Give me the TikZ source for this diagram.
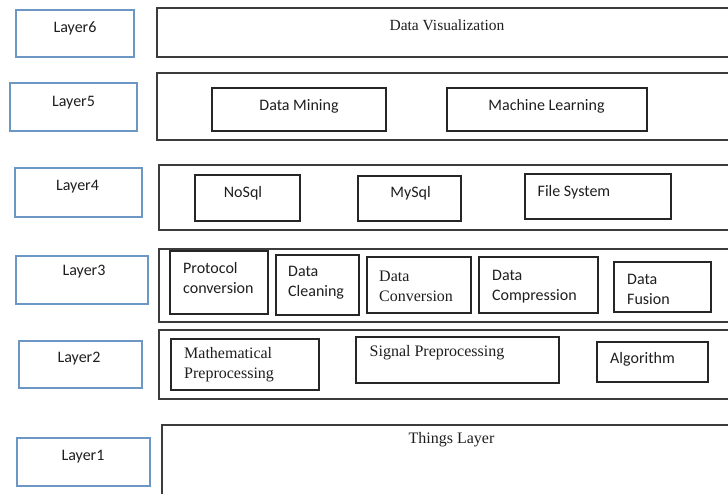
\documentclass[tikz,border=0pt]{standalone}
\usepackage{fontspec}
\setmainfont{Liberation Serif}
\newfontfamily\calfont{Carlito}
\usetikzlibrary{fit}
\definecolor{layerblue}{RGB}{108,150,196}
\definecolor{framegray}{RGB}{60,60,60}
\definecolor{inktext}{RGB}{30,30,30}
\tikzset{
  layertag/.style={draw=layerblue, line width=1.3pt, inner sep=0pt},
  tier/.style={draw=framegray, line width=1.5pt, inner sep=0pt},
  unit/.style={draw=black!85, line width=1.2pt, inner sep=0pt},
  sanstxt/.style={font=\calfont\fontsize{16}{20}\selectfont, text=inktext, inner sep=0pt},
  seriftxt/.style={font=\fontsize{16}{20}\selectfont, text=inktext, inner sep=0pt},
  leftblock/.style={anchor=west, align=left},
}
\begin{document}
\begin{tikzpicture}[x=1pt,y=-1pt]
\useasboundingbox (0,0) rectangle (728,494);
\clip (0,0) rectangle (728,494);

% layer tags on the left
\node[layertag, fit={(16,10) (134,57)}]  (tag6) {};
\node[layertag, fit={(10,83) (137,131)}] (tag5) {};
\node[layertag, fit={(15,168) (142,217)}] (tag4) {};
\node[layertag, fit={(16,256) (148,304)}] (tag3) {};
\node[layertag, fit={(19,341) (142,388)}] (tag2) {};
\node[layertag, fit={(17,438) (150,486)}] (tag1) {};

\node[sanstxt] (tag6t) at (75,28)   {Layer6};
\node[sanstxt] (tag5t) at (73.5,103) {Layer5};
\node[sanstxt] (tag4t) at (77.5,187) {Layer4};
\node[sanstxt] (tag3t) at (84,272)  {Layer3};
\node[sanstxt] (tag2t) at (79,359)  {Layer2};
\node[sanstxt] (tag1t) at (83,457)  {Layer1};

% wide tier frames (running past the right edge)
\node[tier, fit={(157,8) (740,57)}]   (tier6) {};
\node[tier, fit={(157,73) (740,140)}] (tier5) {};
\node[tier, fit={(159,165) (740,230)}] (tier4) {};
\node[tier, fit={(159,249) (740,322)}] (tier3) {};
\node[tier, fit={(159,330) (740,399)}] (tier2) {};
\node[tier, fit={(162,425) (740,520)}] (tier1) {};

% tier 6
\node[seriftxt, font=\fontsize{15.5}{19}\selectfont] (viz) at (447,25) {Data Visualization};

% tier 5
\node[unit, fit={(212,88) (386,131)}] (mining) {};
\node[unit, fit={(447,88) (647,131)}] (learning) {};
\node[sanstxt] (miningt) at (299,106) {Data Mining};
\node[sanstxt] (learningt) at (546.5,106) {Machine Learning};

% tier 4
\node[unit, fit={(195,175) (300,221)}] (nosql) {};
\node[unit, fit={(358,176) (461,221)}] (mysql) {};
\node[unit, fit={(525,174) (671,219)}] (fs) {};
\node[sanstxt] (nosqlt) at (243,193) {NoSql};
\node[sanstxt] (mysqlt) at (410.5,193) {MySql};
\node[sanstxt] (fst) at (574,192) {File System};

% tier 3
\node[unit, fit={(170,251) (268,314)}] (proto) {};
\node[unit, fit={(276,255) (359,315)}] (clean) {};
\node[unit, fit={(367,257) (471,313)}] (conv) {};
\node[unit, fit={(479,257) (598,313)}] (compr) {};
\node[unit, fit={(614,262) (711,312)}] (fusion) {};
\node[sanstxt, leftblock] (protot) at (183,278) {Protocol\\conversion};
\node[sanstxt, leftblock] (cleant) at (288,283) {Data\\Cleaning};
\node[seriftxt, leftblock] (convt) at (379,286) {Data\\Conversion};
\node[sanstxt, leftblock] (comprt) at (492,287) {Data\\Compression};
\node[sanstxt, leftblock] (fusiont) at (627,289) {Data\\Fusion};

% tier 2
\node[unit, fit={(171,339) (319,390)}] (math) {};
\node[unit, fit={(356,337) (559,383)}] (signal) {};
\node[unit, fit={(597,342) (708,382)}] (algo) {};
\node[seriftxt, leftblock] (matht) at (184,365) {Mathematical\\Preprocessing};
\node[seriftxt] (signalt) at (437,353) {Signal Preprocessing};
\node[sanstxt] (algot) at (642.5,359) {Algorithm};

% tier 1
\node[seriftxt] (things) at (451.5,440) {Things Layer};
\end{tikzpicture}
\end{document}
